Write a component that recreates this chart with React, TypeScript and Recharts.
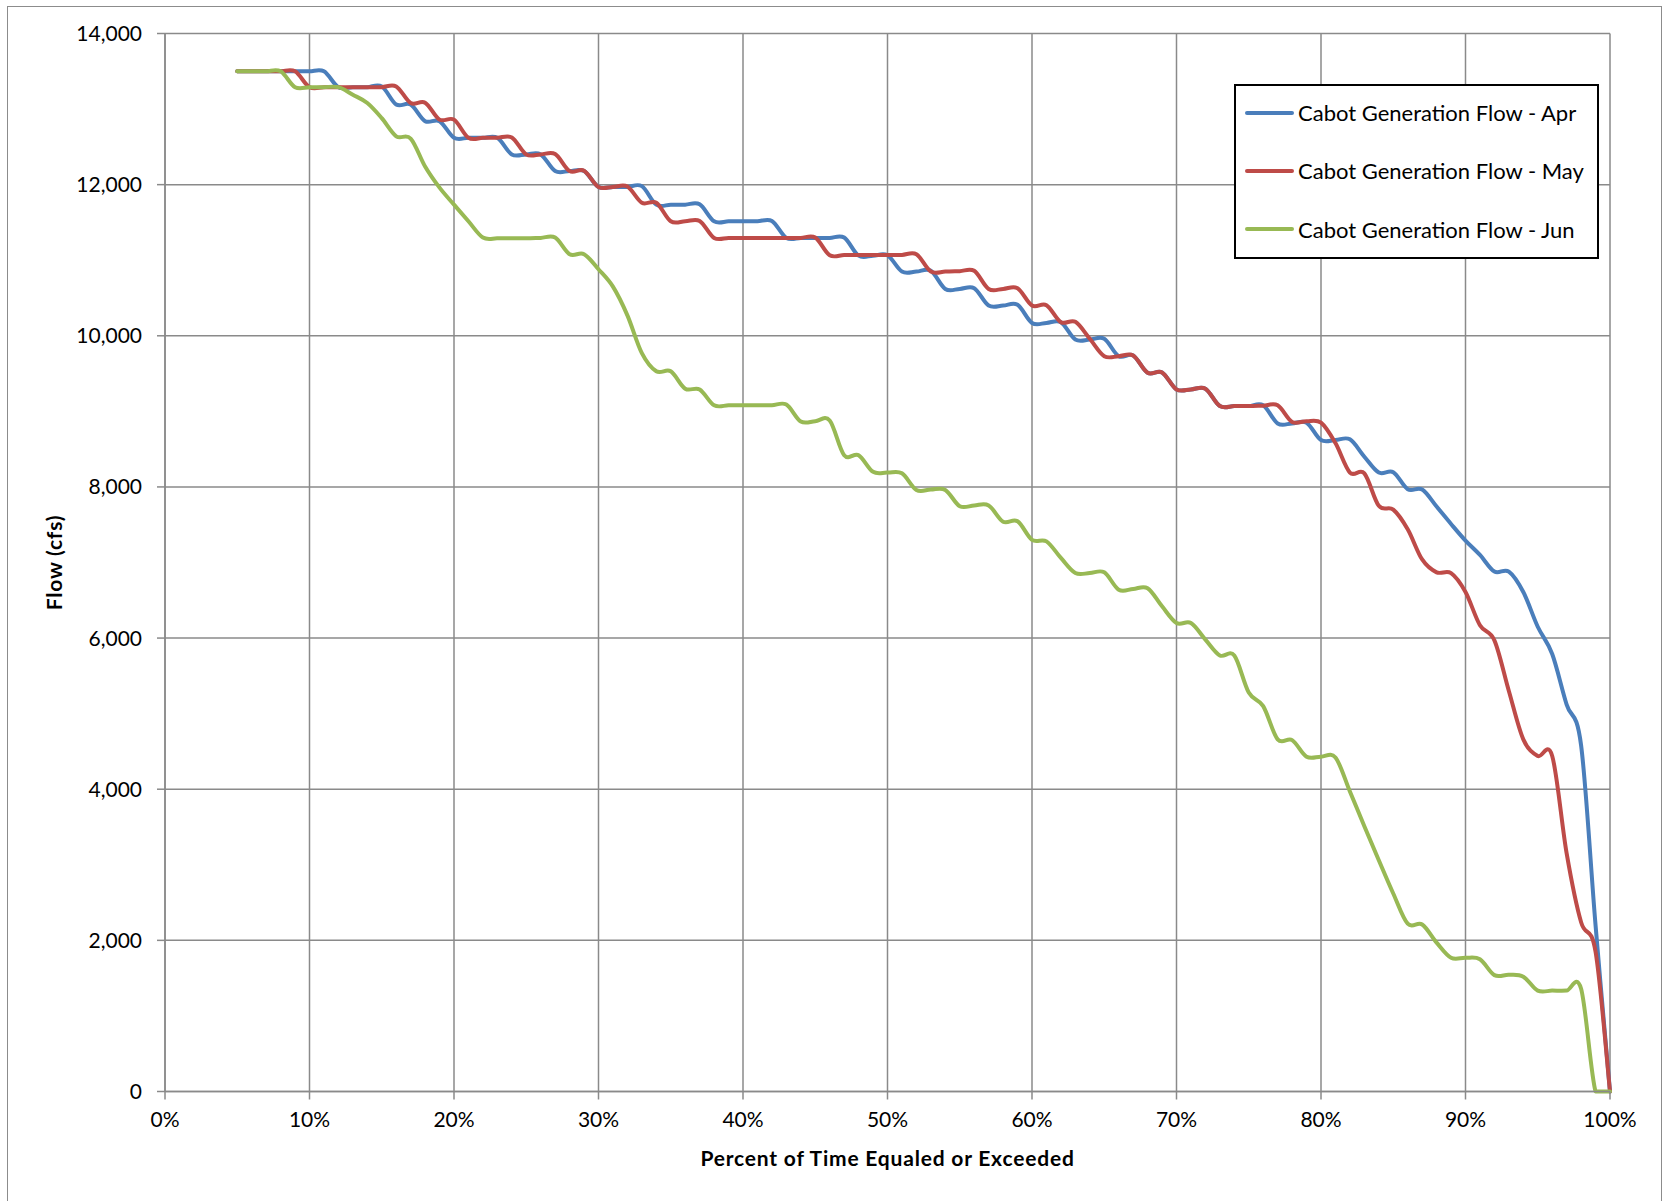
import { LineChart, Line, XAxis, YAxis, CartesianGrid, Legend } from 'recharts';

const FONT = 'Lato, "Open Sans", sans-serif';
const GRID = '#8a8a8a';

// percent of time equaled or exceeded
const PCT = [
  5, 6, 7, 8, 9, 10, 11, 12, 13, 14,
  15, 16, 17, 18, 19, 20, 21, 22, 23, 24,
  25, 26, 27, 28, 29, 30, 31, 32, 33, 34,
  35, 36, 37, 38, 39, 40, 41, 42, 43, 44,
  45, 46, 47, 48, 49, 50, 51, 52, 53, 54,
  55, 56, 57, 58, 59, 60, 61, 62, 63, 64,
  65, 66, 67, 68, 69, 70, 71, 72, 73, 74,
  75, 76, 77, 78, 79, 80, 81, 82, 83, 84,
  85, 86, 87, 88, 89, 90, 91, 92, 93, 94,
  95, 96, 97, 98, 99, 100,
];

// flow, cfs
const APR = [
  13500, 13500, 13500, 13500, 13500, 13500, 13500, 13290, 13290, 13290,
  13300, 13060, 13060, 12840, 12840, 12620, 12620, 12620, 12620, 12400,
  12400, 12400, 12180, 12180, 12180, 11970, 11970, 11970, 11980, 11735,
  11735, 11735, 11740, 11515, 11515, 11515, 11515, 11520, 11295, 11295,
  11295, 11295, 11300, 11060, 11060, 11065, 10850, 10850, 10860, 10620,
  10620, 10630, 10400, 10400, 10410, 10170, 10170, 10180, 9950, 9950,
  9960, 9730, 9740, 9510, 9515, 9290, 9290, 9300, 9070, 9070,
  9070, 9080, 8840, 8840, 8850, 8620, 8620, 8630, 8400, 8190,
  8195, 7970, 7965, 7740, 7510, 7290, 7100, 6880, 6880, 6610,
  6150, 5790, 5120, 4580, 2200, 0,
];

const MAY = [
  13500, 13500, 13500, 13500, 13500, 13290, 13290, 13290, 13290, 13290,
  13290, 13300, 13080, 13085, 12860, 12860, 12620, 12620, 12620, 12625,
  12400, 12400, 12405, 12180, 12185, 11970, 11970, 11975, 11760, 11760,
  11515, 11515, 11520, 11295, 11295, 11295, 11295, 11295, 11295, 11295,
  11300, 11065, 11070, 11070, 11070, 11070, 11070, 11080, 10850, 10850,
  10855, 10860, 10620, 10620, 10630, 10400, 10405, 10180, 10185, 9960,
  9730, 9730, 9740, 9510, 9515, 9290, 9290, 9300, 9070, 9070,
  9070, 9075, 9080, 8860, 8870, 8850, 8580, 8190, 8180, 7750,
  7700, 7440, 7040, 6870, 6860, 6610, 6170, 5970, 5300, 4660,
  4440, 4440, 3150, 2240, 1850, 0,
];

const JUN = [
  13500, 13500, 13500, 13500, 13290, 13290, 13290, 13290, 13190, 13080,
  12880, 12640, 12610, 12240, 11960, 11735, 11515, 11300, 11290, 11290,
  11290, 11295, 11300, 11080, 11080, 10880, 10650, 10270, 9770, 9530,
  9530, 9300, 9290, 9080, 9080, 9080, 9080, 9080, 9090, 8865,
  8870, 8880, 8420, 8420, 8200, 8190, 8180, 7960, 7965, 7960,
  7745, 7755, 7755, 7540, 7545, 7300, 7280, 7060, 6860, 6860,
  6870, 6640, 6650, 6660, 6420, 6200, 6200, 5980, 5770, 5770,
  5280, 5100, 4660, 4650, 4430, 4430, 4420, 3970, 3510, 3060,
  2620, 2220, 2210, 1970, 1770, 1770, 1750, 1540, 1545, 1520,
  1335, 1335, 1335, 1360, 0, 0,
];

const X_TICKS = [0, 10, 20, 30, 40, 50, 60, 70, 80, 90, 100];
const Y_TICKS = [0, 2000, 4000, 6000, 8000, 10000, 12000, 14000];

const SERIES = [
  { key: 'apr', name: 'Cabot Generation Flow - Apr', color: '#4a7ebb' },
  { key: 'may', name: 'Cabot Generation Flow - May', color: '#be4b48' },
  { key: 'jun', name: 'Cabot Generation Flow - Jun', color: '#98b954' },
];

const rows = PCT.map((p, i) => ({ p, apr: APR[i], may: MAY[i], jun: JUN[i] }));

// Excel-style smoothed line (Catmull-Rom through the points),
// kept from dipping below the lowest point of the series
function smoothCurve(context: any) {
  let pts: number[][] = [];
  return {
    areaStart() {},
    areaEnd() {},
    lineStart() {
      pts = [];
    },
    point(x: number, y: number) {
      pts.push([+x, +y]);
    },
    lineEnd() {
      if (!pts.length) return;
      const bottom = Math.max(...pts.map((q) => q[1]));
      const lim = (v: number) => Math.min(v, bottom);
      context.moveTo(pts[0][0], pts[0][1]);
      for (let i = 0; i < pts.length - 1; i++) {
        const p0 = pts[i - 1] || pts[i];
        const p1 = pts[i];
        const p2 = pts[i + 1];
        const p3 = pts[i + 2] || p2;
        context.bezierCurveTo(
          p1[0] + (p2[0] - p0[0]) / 6,
          lim(p1[1] + (p2[1] - p0[1]) / 6),
          p2[0] - (p3[0] - p1[0]) / 6,
          lim(p2[1] - (p3[1] - p1[1]) / 6),
          p2[0],
          p2[1],
        );
      }
    },
  };
}

function LegendBox({ payload }: any) {
  const order = SERIES.map((s) => s.name);
  const items = (payload || [])
    .slice()
    .sort((a: any, b: any) => order.indexOf(a.value) - order.indexOf(b.value));
  return (
    <div
      style={{
        width: 361,
        height: 171,
        border: '2px solid #000',
        background: '#fff',
        fontFamily: FONT,
        fontSize: 22,
        color: '#000',
        overflow: 'hidden',
      }}
    >
      <div style={{ marginTop: -2.5 }}>
        {items.map((item: any) => (
          <div key={item.value} style={{ display: 'flex', alignItems: 'center', height: 58.3 }}>
            <span
              style={{
                display: 'inline-block',
                width: 49,
                height: 4,
                marginLeft: 9,
                marginRight: 4,
                background: item.color,
                borderRadius: 2,
              }}
            />
            <span style={{ whiteSpace: 'nowrap' }}>{item.value}</span>
          </div>
        ))}
      </div>
    </div>
  );
}

function YTitle(props: any) {
  const vb = props.viewBox;
  const cx = vb.x - 32;
  const cy = vb.y + vb.height / 2;
  return (
    <text
      x={cx}
      y={cy}
      transform={`rotate(-90 ${cx} ${cy})`}
      textAnchor="middle"
      dominantBaseline="central"
      fontFamily={FONT}
      fontWeight={700}
      fontSize={21}
      letterSpacing={0.8}
      fill="#000"
    >
      Flow (cfs)
    </text>
  );
}

export default function App() {
  const tick = { fill: '#000', fontSize: 21, fontFamily: FONT };
  return (
    <div
      style={{
        position: 'absolute',
        left: 0,
        top: 0,
        width: 1663,
        height: 1201,
        overflow: 'hidden',
        background: '#fff',
        fontFamily: FONT,
      }}
    >
      <LineChart
        width={1663}
        height={1201}
        data={rows}
        margin={{ top: 33.5, right: 53, bottom: 69.5, left: 85 }}
      >
        <CartesianGrid stroke={GRID} strokeWidth={1.5} />
        <XAxis
          dataKey="p"
          type="number"
          domain={[0, 100]}
          ticks={X_TICKS}
          interval={0}
          tickFormatter={(v) => `${v}%`}
          tick={tick}
          tickSize={8}
          tickMargin={13}
          height={40}
          axisLine={{ stroke: GRID, strokeWidth: 1.5 }}
          tickLine={{ stroke: GRID, strokeWidth: 1.5 }}
          label={{
            value: 'Percent of Time Equaled or Exceeded',
            position: 'bottom',
            offset: 20,
            fontFamily: FONT,
            fontWeight: 700,
            fontSize: 21,
            letterSpacing: 0.8,
            fill: '#000',
          }}
        />
        <YAxis
          type="number"
          domain={[0, 14000]}
          ticks={Y_TICKS}
          interval={0}
          tickFormatter={(v) => Number(v).toLocaleString('en-US')}
          tick={tick}
          tickSize={8}
          tickMargin={15}
          width={80}
          axisLine={{ stroke: GRID, strokeWidth: 1.5 }}
          tickLine={{ stroke: GRID, strokeWidth: 1.5 }}
          label={{ content: YTitle }}
        />
        <Legend
          layout="vertical"
          align="center"
          verticalAlign="middle"
          content={LegendBox}
          wrapperStyle={{ left: 1234, top: 84, width: 365, height: 175 }}
        />
        {SERIES.map((s) => (
          <Line
            key={s.key}
            dataKey={s.key}
            name={s.name}
            type={smoothCurve as any}
            stroke={s.color}
            strokeWidth={4}
            strokeLinecap="round"
            strokeLinejoin="round"
            dot={false}
            activeDot={false}
            isAnimationActive={false}
          />
        ))}
      </LineChart>
      <div
        style={{
          position: 'absolute',
          left: 7,
          top: 6,
          width: 1653,
          height: 1210,
          border: '1.5px solid #8c8c8c',
          pointerEvents: 'none',
        }}
      />
    </div>
  );
}
